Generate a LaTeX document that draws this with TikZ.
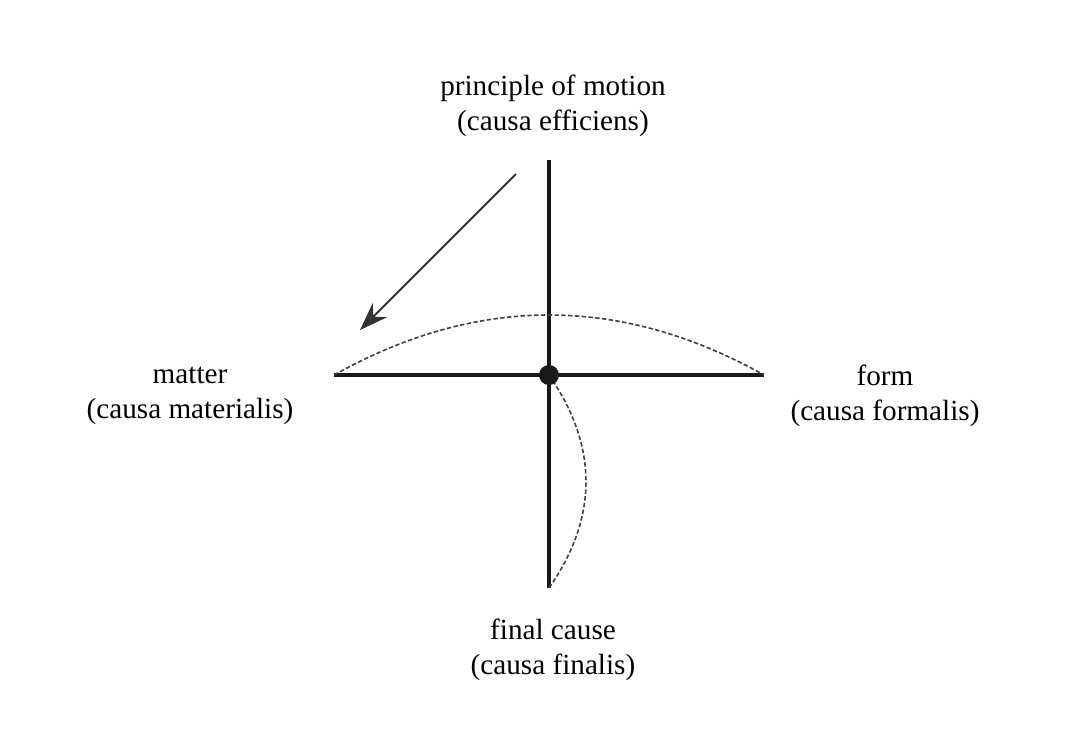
\documentclass[tikz,border=0pt]{standalone}
\usepackage{fontspec}
\setmainfont{Liberation Serif}
\usetikzlibrary{arrows.meta}
\begin{document}
\begin{tikzpicture}[x=0.5pt,y=-0.5pt,
  lbl/.style={font=\fontsize{14.6}{17.5}\selectfont, align=center, inner sep=0pt},
  axis/.style={line width=2pt, draw=black!90},
  arc/.style={line width=0.8pt, dash pattern=on 2.2pt off 1.2pt, draw=black!75},
  mover/.style={line width=1pt, draw=black!80, -{Stealth[length=14pt,width=10pt]}}]
\useasboundingbox (0,0) rectangle (1072,736);
\coordinate (c) at (549,375);
\coordinate (L) at (334,375);
\coordinate (R) at (764,375);
\coordinate (T) at (549,160);
\coordinate (B) at (549,588);
\coordinate (as) at (516,174);
\coordinate (ae) at (360,330);
\draw[axis] (L) -- (R);
\draw[axis] (T) -- (B);
\draw[arc] (L) .. controls (477.3,295) and (620.7,295) .. (R);
\draw[arc] (c) .. controls (598.3,446.3) and (598.3,517.3) .. (B);
\draw[mover] (as) -- (ae);
\fill[black!90] (c) circle (5pt);
\node[lbl] (top) at (553,106) {principle of motion\\(causa efficiens)};
\node[lbl] (left) at (190,396) {matter\\(causa materialis)};
\node[lbl] (right) at (885,396) {form\\(causa formalis)};
\node[lbl] (bottom) at (553,650) {final cause\\(causa finalis)};
\end{tikzpicture}
\end{document}
